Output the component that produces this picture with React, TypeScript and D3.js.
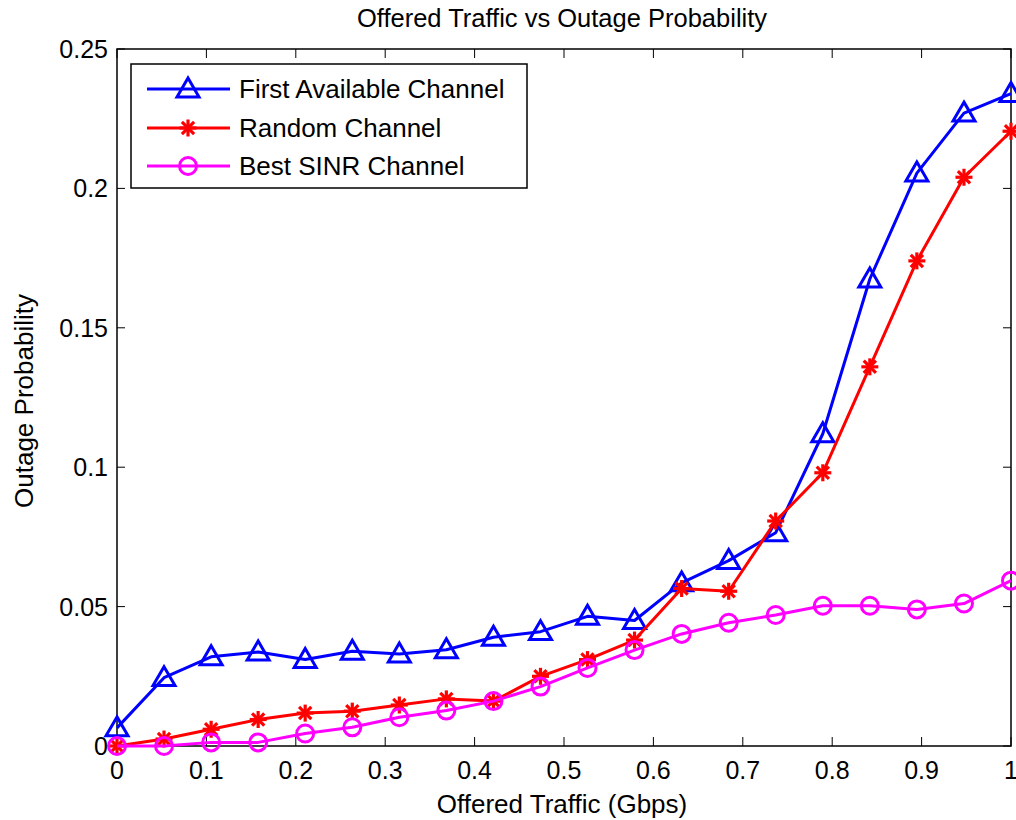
import React from "react";
import * as d3 from "d3";

// Offered traffic (Gbps), 20 evenly spaced points from 0 to 1
const traffic: number[] = [
  0, 0.0526, 0.1053, 0.1579, 0.2105, 0.2632, 0.3158, 0.3684, 0.4211, 0.4737,
  0.5263, 0.5789, 0.6316, 0.6842, 0.7368, 0.7895, 0.8421, 0.8947, 0.9474, 1,
];

const firstAvailable: number[] = [
  0.0065, 0.0245, 0.032, 0.0337, 0.031, 0.034, 0.033, 0.0345, 0.039, 0.041,
  0.0465, 0.045, 0.0585, 0.0665, 0.0765, 0.112, 0.1675, 0.2055, 0.227, 0.234,
];

const randomChannel: number[] = [
  0.0, 0.0025, 0.006, 0.0095, 0.0118, 0.0125, 0.0147, 0.0169, 0.0161, 0.025,
  0.031, 0.038, 0.0565, 0.0555, 0.0807, 0.098, 0.136, 0.174, 0.204, 0.2205,
];

const bestSinr: number[] = [
  0.0, 0.0, 0.0013, 0.0013, 0.0045, 0.0067, 0.0103, 0.0127, 0.0161, 0.0213,
  0.028, 0.0344, 0.0402, 0.0442, 0.047, 0.0503, 0.0503, 0.049, 0.0511, 0.0593,
];

const xTicks: number[] = [0, 0.1, 0.2, 0.3, 0.4, 0.5, 0.6, 0.7, 0.8, 0.9, 1];
const yTicks: number[] = [0, 0.05, 0.1, 0.15, 0.2, 0.25];

const seriesNames: string[] = ["First Available Channel", "Random Channel", "Best SINR Channel"];
const seriesColors: string[] = ["#0000ff", "#ff0000", "#ff00ff"];
const seriesMarkers: string[] = ["triangle", "asterisk", "circle"];

const W = 1016;
const H = 820;
const left = 117;
const right = 1011;
const top = 49;
const bottom = 746;
const FONT = "'Liberation Sans', Arial, Helvetica, sans-serif";

const x = d3.scaleLinear().domain([0, 1]).range([left, right]);
const y = d3.scaleLinear().domain([0, 0.25]).range([bottom, top]);

function Marker({ kind, cx, cy, color }: { kind: string; cx: number; cy: number; color: string }) {
  if (kind === "triangle") {
    const s = 11;
    const pts = [
      [cx, cy - s],
      [cx + s * 1.0, cy + s * 0.72],
      [cx - s * 1.0, cy + s * 0.72],
    ]
      .map((p) => p.join(","))
      .join(" ");
    return <polygon points={pts} fill="none" stroke={color} strokeWidth={3} strokeLinejoin="miter" />;
  }
  if (kind === "circle") {
    return <circle cx={cx} cy={cy} r={8.5} fill="none" stroke={color} strokeWidth={3} />;
  }
  // asterisk: plus + x strokes
  const r = 8.5;
  const d = r * 0.72;
  return (
    <g stroke={color} strokeWidth={3.2} strokeLinecap="butt">
      <line x1={cx - r} y1={cy} x2={cx + r} y2={cy} />
      <line x1={cx} y1={cy - r} x2={cx} y2={cy + r} />
      <line x1={cx - d} y1={cy - d} x2={cx + d} y2={cy + d} />
      <line x1={cx - d} y1={cy + d} x2={cx + d} y2={cy - d} />
    </g>
  );
}

export default function App() {
  const allSeries = [firstAvailable, randomChannel, bestSinr];
  const line = d3
    .line<[number, number]>()
    .x((d) => x(d[0]))
    .y((d) => y(d[1]));

  const legendX = 131;
  const legendY = 64;
  const legendW = 396;
  const legendH = 124;
  const rowYs = [89, 128, 166];

  return (
    <svg
      width={W}
      height={H}
      style={{ position: "absolute", left: 0, top: 0, background: "#fff" }}
      fontFamily={FONT}
    >
      <rect x={0} y={0} width={W} height={H} fill="#fff" />

      {/* axes box */}
      <rect x={left} y={top} width={right - left} height={bottom - top} fill="none" stroke="#000" strokeWidth={1.5} />

      {/* x ticks, bottom and top, pointing inward */}
      {xTicks.map((t) => (
        <g key={"xt" + t}>
          <line x1={x(t)} x2={x(t)} y1={bottom} y2={bottom - 9} stroke="#000" strokeWidth={1} />
          <line x1={x(t)} x2={x(t)} y1={top} y2={top + 9} stroke="#000" strokeWidth={1} />
          <text x={x(t)} y={779} textAnchor="middle" fontSize={25} fill="#000">
            {d3.format("")(t)}
          </text>
        </g>
      ))}

      {/* y ticks, left and right, pointing inward */}
      {yTicks.map((t) => (
        <g key={"yt" + t}>
          <line x1={left} x2={left + 8} y1={y(t)} y2={y(t)} stroke="#000" strokeWidth={1} />
          <line x1={right} x2={right - 8} y1={y(t)} y2={y(t)} stroke="#000" strokeWidth={1} />
          <text x={108} y={y(t) + 9} textAnchor="end" fontSize={25} fill="#000">
            {d3.format("")(t)}
          </text>
        </g>
      ))}

      {/* series */}
      {allSeries.map((vals, i) => {
        const pts: [number, number][] = traffic.map((t, j) => [t, vals[j]]);
        return (
          <g key={"s" + i}>
            <path d={line(pts) ?? ""} fill="none" stroke={seriesColors[i]} strokeWidth={3} strokeLinejoin="round" />
            {pts.map((p, j) => (
              <Marker key={j} kind={seriesMarkers[i]} cx={x(p[0])} cy={y(p[1])} color={seriesColors[i]} />
            ))}
          </g>
        );
      })}

      {/* legend */}
      <rect x={legendX} y={legendY} width={legendW} height={legendH} fill="#fff" stroke="#000" strokeWidth={1.5} />
      {seriesNames.map((name, i) => (
        <g key={"lg" + i}>
          <line x1={147} x2={230} y1={rowYs[i]} y2={rowYs[i]} stroke={seriesColors[i]} strokeWidth={3} />
          <Marker kind={seriesMarkers[i]} cx={188} cy={rowYs[i]} color={seriesColors[i]} />
          <text x={239} y={rowYs[i] + 9} fontSize={26} fill="#000">
            {name}
          </text>
        </g>
      ))}

      {/* title and axis labels */}
      <text x={562} y={27} textAnchor="middle" fontSize={25.5} fill="#000">
        Offered Traffic vs Outage Probability
      </text>
      <text x={562} y={813} textAnchor="middle" fontSize={26} fill="#000">
        Offered Traffic (Gbps)
      </text>
      <text
        transform={`translate(33, 401) rotate(-90)`}
        textAnchor="middle"
        fontSize={26}
        fill="#000"
      >
        Outage Probability
      </text>
    </svg>
  );
}
